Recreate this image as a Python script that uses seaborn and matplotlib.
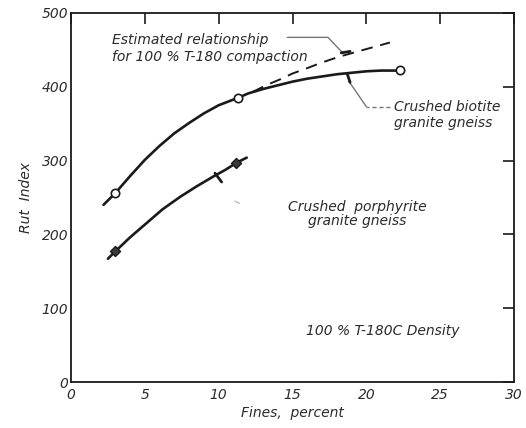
import matplotlib
matplotlib.use("Agg")
import matplotlib.pyplot as plt
import seaborn as sns

# ---- data ----
biotite_curve_x = [2.2, 3.0, 4.0, 5.0, 6.0, 7.0, 8.0, 9.0, 10.0, 11.3, 12.0, 13.0,
                   14.0, 15.0, 16.0, 17.0, 18.0, 19.0, 20.0, 21.0, 22.3]
biotite_curve_y = [240, 256, 279, 301, 320, 337, 351, 364, 375, 385, 391, 397,
                   402, 407, 411, 414, 417, 419, 421, 422, 422]
biotite_pts_x = [3.0, 11.3, 22.3]
biotite_pts_y = [256, 385, 423]

est_x = [12.3, 13.2, 14.15, 15.0, 15.96, 17.0, 18.2, 19.8, 21.6]
est_y = [393, 402, 410, 418, 425, 433, 441, 450, 460]

porph_curve_x = [2.5, 3.0, 4.0, 5.1, 6.2, 7.4, 8.5, 9.6, 10.5, 11.2, 11.9]
porph_curve_y = [167, 177, 196, 215, 234, 251, 265, 278, 288, 297, 304]
porph_pts_x = [3.0, 11.2]
porph_pts_y = [178, 297]

x_ticks = [0, 5, 10, 15, 20, 25, 30]
x_tick_labels = ["0", "5", "10", "15", "20", "25", "30"]
y_ticks = [0, 100, 200, 300, 400, 500]
y_tick_labels = ["0", "100", "200", "300", "400", "500"]

sns.set_style("white")
plt.rcParams["font.family"] = ["DejaVu Sans"]
plt.rcParams["font.style"] = "italic"

ink = "#1a1a1a"
txt = "#2b2b2b"

fig = plt.figure(figsize=(5.26, 4.28), dpi=100)
ax = fig.add_axes([71 / 526, 46 / 428, 443 / 526, 369 / 428])

sns.lineplot(x=biotite_curve_x, y=biotite_curve_y, ax=ax, color=ink, lw=1.9,
             sort=False, estimator=None)
sns.lineplot(x=porph_curve_x, y=porph_curve_y, ax=ax, color=ink, lw=1.9,
             sort=False, estimator=None)
sns.lineplot(x=est_x, y=est_y, ax=ax, color=ink, lw=1.4, sort=False,
             estimator=None, linestyle=(0, (6, 4)))
sns.scatterplot(x=biotite_pts_x, y=biotite_pts_y, ax=ax, marker="o", s=36,
                facecolor="white", edgecolor=ink, linewidth=1.2, zorder=5)
sns.scatterplot(x=porph_pts_x, y=porph_pts_y, ax=ax, marker="D", s=26,
                color="#3a3a3a", edgecolor=ink, linewidth=1.0, zorder=5)

ax.set_xlim(0, 30)
ax.set_ylim(0, 500)
ax.set_xticks(x_ticks)
ax.set_xticklabels(x_tick_labels)
ax.set_yticks(y_ticks)
ax.set_yticklabels(y_tick_labels)
ax.tick_params(axis="both", direction="in", length=8, width=1.2, color=ink,
               labelsize=10, labelcolor=txt, top=True, right=True)
ax.tick_params(axis="y", pad=2)
ax.tick_params(axis="x", pad=4)
for lab in ax.get_xticklabels() + ax.get_yticklabels():
    lab.set_fontstyle("italic")
for sp in ax.spines.values():
    sp.set_linewidth(1.3)
    sp.set_color(ink)

ax.set_xlabel("Fines,  percent", fontsize=10, style="italic", color=txt, labelpad=3)
ax.set_ylabel("Rut  Index", fontsize=10, style="italic", color=txt, labelpad=6)

# annotations
ax.text(2.8, 463, "Estimated relationship", fontsize=10, style="italic",
        color=txt, va="center")
ax.text(2.8, 440, "for 100 % T-180 compaction", fontsize=10, style="italic",
        color=txt, va="center")
ax.plot([14.65, 17.4, 18.35], [467, 467, 447], color="#777777", lw=1.0)
ax.plot([18.3, 18.9], [446, 448], color=ink, lw=2.0)

ax.text(21.9, 372, "Crushed biotite", fontsize=10, style="italic", color=txt, va="center")
ax.text(21.9, 351, "granite gneiss", fontsize=10, style="italic", color=txt, va="center")
ax.plot([21.6, 20.0], [373, 373], color="#777777", lw=1.0, linestyle=(0, (3, 2)))
ax.plot([20.0, 18.8], [373, 408], color="#777777", lw=1.0)
ax.plot([18.7, 18.9], [418, 406], color=ink, lw=2.0)

ax.text(19.4, 237, "Crushed  porphyrite", fontsize=10, style="italic",
        color=txt, va="center", ha="center")
ax.text(19.4, 218, "granite gneiss", fontsize=10, style="italic",
        color=txt, va="center", ha="center")
ax.plot([9.75, 10.2], [283, 271], color=ink, lw=2.0)
ax.plot([11.1, 11.4], [245, 242], color="#bbbbbb", lw=1.0)

ax.text(15.9, 69, "100 % T-180C Density", fontsize=10, style="italic",
        color=txt, va="center")

fig.savefig("out.png", dpi=100)
